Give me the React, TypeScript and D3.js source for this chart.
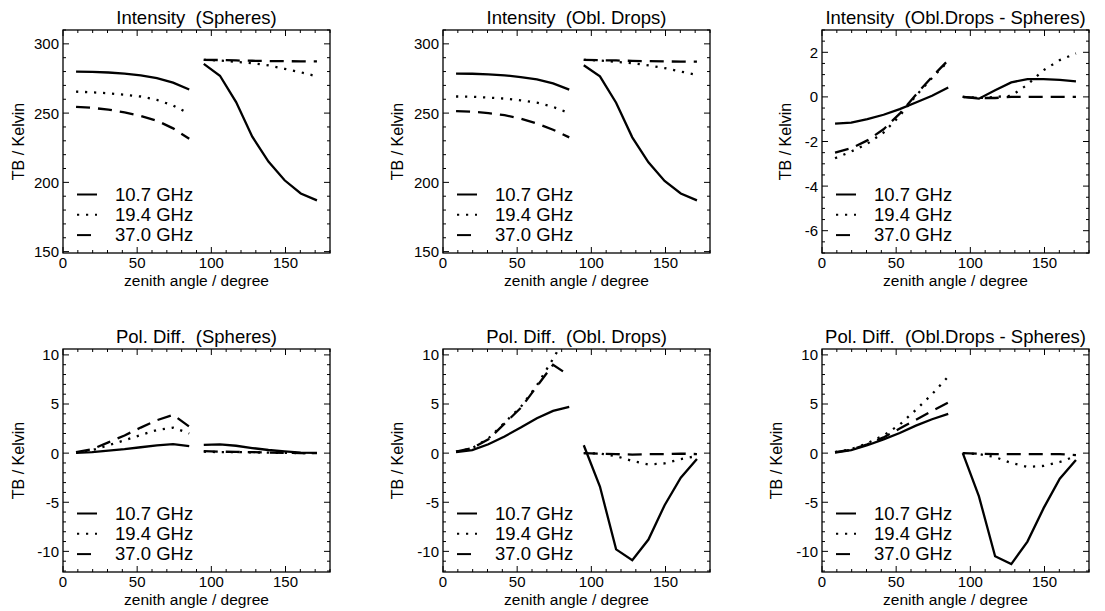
import React from 'react';
import * as d3 from 'd3';

// zenith angles of the model output (left half: 0-90, right half: 90-180)
const angles = [8.8, 19.7, 30.6, 41.5, 52.4, 63.3, 74.2, 85.1, 94.9, 105.8, 116.7, 127.6, 138.5, 149.4, 160.3, 171.2];
const freqs = ['10.7 GHz', '19.4 GHz', '37.0 GHz'];
const xTicks = [0, 50, 100, 150];

// Intensity (Spheres)
const intSph107 = [280, 279.8, 279.3, 278.5, 277.2, 275.3, 272, 267, 285.5, 277, 258, 233, 215, 201.5, 192, 187];
const intSph194 = [265.5, 265, 264.3, 263.3, 262, 259.5, 255.5, 249.5, 288.5, 288, 287, 286, 284.5, 282, 279.5, 276.5];
const intSph370 = [254.5, 253.8, 252.5, 250.5, 248, 244.5, 239, 231.5, 288.5, 288.3, 288, 287.8, 287.6, 287.5, 287.4, 287.3];

// Intensity (Obl. Drops)
const intObl107 = [278.5, 278.4, 278, 277.3, 276, 274.3, 271.5, 267, 284.5, 276.5, 257.5, 232.5, 214.5, 201, 192, 187];
const intObl194 = [262, 261.8, 261.2, 260.5, 259.2, 257.5, 254.5, 250, 288.5, 288, 287, 286, 284.5, 282.5, 280, 277.5];
const intObl370 = [251.5, 251, 250, 248.5, 246, 242.5, 238, 232.5, 288.5, 288.2, 288, 287.7, 287.5, 287.3, 287.2, 287.1];

// Intensity (Obl.Drops - Spheres)
const intDif107 = [-1.2, -1.15, -1.0, -0.8, -0.55, -0.25, 0.05, 0.42, 0, -0.08, 0.3, 0.65, 0.8, 0.8, 0.76, 0.7];
const intDif194 = [-2.75, -2.45, -2.1, -1.6, -0.85, 0.05, 0.85, 1.6, 0, -0.05, 0, 0.05, 0.55, 1.2, 1.65, 1.95];
const intDif370 = [-2.5, -2.3, -1.95, -1.45, -0.75, 0.1, 0.9, 1.65, 0, -0.05, -0.05, 0, 0, 0, 0, 0];

// Pol. Diff. (Spheres)
const polSph107 = [0.02, 0.1, 0.25, 0.4, 0.6, 0.8, 0.92, 0.72, 0.85, 0.9, 0.75, 0.52, 0.32, 0.17, 0.05, 0.02];
const polSph194 = [0.05, 0.3, 0.8, 1.3, 1.85, 2.35, 2.6, 2.0, 0.15, 0.1, 0.1, 0.08, 0.05, 0.03, 0.01, 0];
const polSph370 = [0.1, 0.4, 1.1, 1.8, 2.6, 3.35, 3.9, 2.7, 0.2, 0.15, 0.12, 0.1, 0.05, 0.03, 0.01, 0];

// Pol. Diff. (Obl. Drops)
const polObl107 = [0.1, 0.3, 0.9, 1.7, 2.6, 3.55, 4.3, 4.7, 0.8, -3.4, -9.8, -10.9, -8.8, -5.3, -2.5, -0.6];
const polObl194 = [0.15, 0.5, 1.5, 3.1, 4.7, 6.9, 9.6, 12.5, 0, -0.05, -0.3, -0.8, -1.15, -1.05, -0.6, -0.3];
const polObl370 = [0.15, 0.5, 1.4, 3.0, 4.6, 6.8, 9.0, 7.9, 0, -0.05, -0.1, -0.15, -0.1, -0.1, -0.05, -0.1];

// Pol. Diff. (Obl.Drops - Spheres)
const polDif107 = [0.05, 0.3, 0.8, 1.4, 2.05, 2.8, 3.45, 4.0, 0, -4.4, -10.5, -11.3, -9.0, -5.6, -2.6, -0.7];
const polDif194 = [0.1, 0.4, 1.0, 1.8, 2.9, 4.4, 6.0, 7.8, 0, -0.1, -0.4, -1.0, -1.4, -1.3, -0.9, -0.3];
const polDif370 = [0.1, 0.35, 0.9, 1.6, 2.5, 3.4, 4.3, 5.15, 0, -0.05, -0.1, -0.1, -0.1, -0.1, -0.1, -0.2];

const panels = [
  { title: 'Intensity  (Spheres)', y: [149, 310], ticks: [150, 200, 250, 300], minor: 10, series: [intSph107, intSph194, intSph370], col: 0, row: 0, ttl: 39 },
  { title: 'Intensity  (Obl. Drops)', y: [149, 310], ticks: [150, 200, 250, 300], minor: 10, series: [intObl107, intObl194, intObl370], col: 1, row: 0, ttl: 40 },
  { title: 'Intensity  (Obl.Drops - Spheres)', y: [-7, 3], ticks: [-6, -4, -2, 0, 2], minor: 0.5, series: [intDif107, intDif194, intDif370], col: 2, row: 0, ttl: 31 },
  { title: 'Pol. Diff.  (Spheres)', y: [-12.1, 10.6], ticks: [-10, -5, 0, 5, 10], minor: 1, series: [polSph107, polSph194, polSph370], col: 0, row: 1, ttl: 39 },
  { title: 'Pol. Diff.  (Obl. Drops)', y: [-12.1, 10.6], ticks: [-10, -5, 0, 5, 10], minor: 1, series: [polObl107, polObl194, polObl370], col: 1, row: 1, ttl: 40 },
  { title: 'Pol. Diff.  (Obl.Drops - Spheres)', y: [-12.1, 10.6], ticks: [-10, -5, 0, 5, 10], minor: 1, series: [polDif107, polDif194, polDif370], col: 2, row: 1, ttl: 40 },
];

const colX = [63, 443, 822];
const rowY = [30, 349];
const W = 267;
const H = 223;
const font = '"Liberation Sans", Arial, Helvetica, sans-serif';
const dashes = [null, '2.2 6.8', '14 8'];

function Panel({ p, idx }: { p: any; idx: number }) {
  const x0 = colX[p.col];
  const y0 = rowY[p.row];
  const x = d3.scaleLinear().domain([0, 180]).range([0, W]);
  const y = d3.scaleLinear().domain(p.y).range([H, 0]);

  const xMinor = d3.range(0, 181, 10).filter(v => !xTicks.includes(v));
  const yMinor = d3.range(Math.ceil(p.y[0] / p.minor) * p.minor, p.y[1] + 1e-9, p.minor)
    .filter(v => !p.ticks.some((t: number) => Math.abs(t - v) < 1e-6));

  const clipId = `clip${idx}`;
  return (
    <g transform={`translate(${x0},${y0})`}>
      <defs>
        <clipPath id={clipId}><rect x={0} y={0} width={W} height={H} /></clipPath>
      </defs>
      <text x={W / 2} y={-6} textAnchor="middle" fontSize={18.5} style={{ whiteSpace: 'pre' }}>{p.title}</text>
      <g clipPath={`url(#${clipId})`}>
        {p.series.map((s: number[], k: number) => (
          <g key={k}>
            {[s.slice(0, 8), s.slice(8)].map((seg, h) => (
              <path key={h}
                d={d3.line<number>().x((d, i) => x(angles[i + h * 8])).y(d => y(d))(seg) || ''}
                fill="none" stroke="#000" strokeWidth={2.3}
                strokeDasharray={dashes[k] || undefined} />
            ))}
          </g>
        ))}
      </g>
      {/* ticks on all four sides, pointing inward */}
      {xTicks.map(v => (
        <g key={'xt' + v}>
          <line x1={x(v)} x2={x(v)} y1={H} y2={H - 6} stroke="#000" strokeWidth={1} />
          <line x1={x(v)} x2={x(v)} y1={0} y2={6} stroke="#000" strokeWidth={1} />
          <text x={x(v)} y={H + 14.5} textAnchor="middle" fontSize={15}>{v}</text>
        </g>
      ))}
      {xMinor.map(v => (
        <g key={'xm' + v}>
          <line x1={x(v)} x2={x(v)} y1={H} y2={H - 3} stroke="#000" strokeWidth={1} />
          <line x1={x(v)} x2={x(v)} y1={0} y2={3} stroke="#000" strokeWidth={1} />
        </g>
      ))}
      {p.ticks.map((v: number) => (
        <g key={'yt' + v}>
          <line x1={0} x2={6} y1={y(v)} y2={y(v)} stroke="#000" strokeWidth={1} />
          <line x1={W} x2={W - 6} y1={y(v)} y2={y(v)} stroke="#000" strokeWidth={1} />
          <text x={-4} y={y(v)} dy="0.36em" textAnchor="end" fontSize={15}>{v}</text>
        </g>
      ))}
      {yMinor.map((v: number) => (
        <g key={'ym' + v}>
          <line x1={0} x2={3} y1={y(v)} y2={y(v)} stroke="#000" strokeWidth={1} />
          <line x1={W} x2={W - 3} y1={y(v)} y2={y(v)} stroke="#000" strokeWidth={1} />
        </g>
      ))}
      <rect x={0} y={0} width={W} height={H} fill="none" stroke="#000" strokeWidth={1.3} />
      <text x={W / 2} y={H + 32.5} textAnchor="middle" fontSize={15.5}>zenith angle / degree</text>
      <text transform={`translate(${-p.ttl},${H / 2}) rotate(-90)`} textAnchor="middle" fontSize={16}>TB / Kelvin</text>
      {freqs.map((f, k) => {
        const by = H - 52.5 + k * 20.3;
        return (
          <g key={f}>
            <line x1={14} x2={34} y1={by - 6} y2={by - 6} stroke="#000" strokeWidth={2}
              strokeDasharray={dashes[k] || undefined} />
            <text x={52} y={by} fontSize={18.5}>{f}</text>
          </g>
        );
      })}
    </g>
  );
}

export default function App() {
  return (
    <svg width={1105} height={611} style={{ position: 'absolute', left: 0, top: 0, background: '#fff' }}
      fontFamily={font} fill="#000">
      <rect width={1105} height={611} fill="#fff" />
      {panels.map((p, i) => <Panel key={i} p={p} idx={i} />)}
    </svg>
  );
}
